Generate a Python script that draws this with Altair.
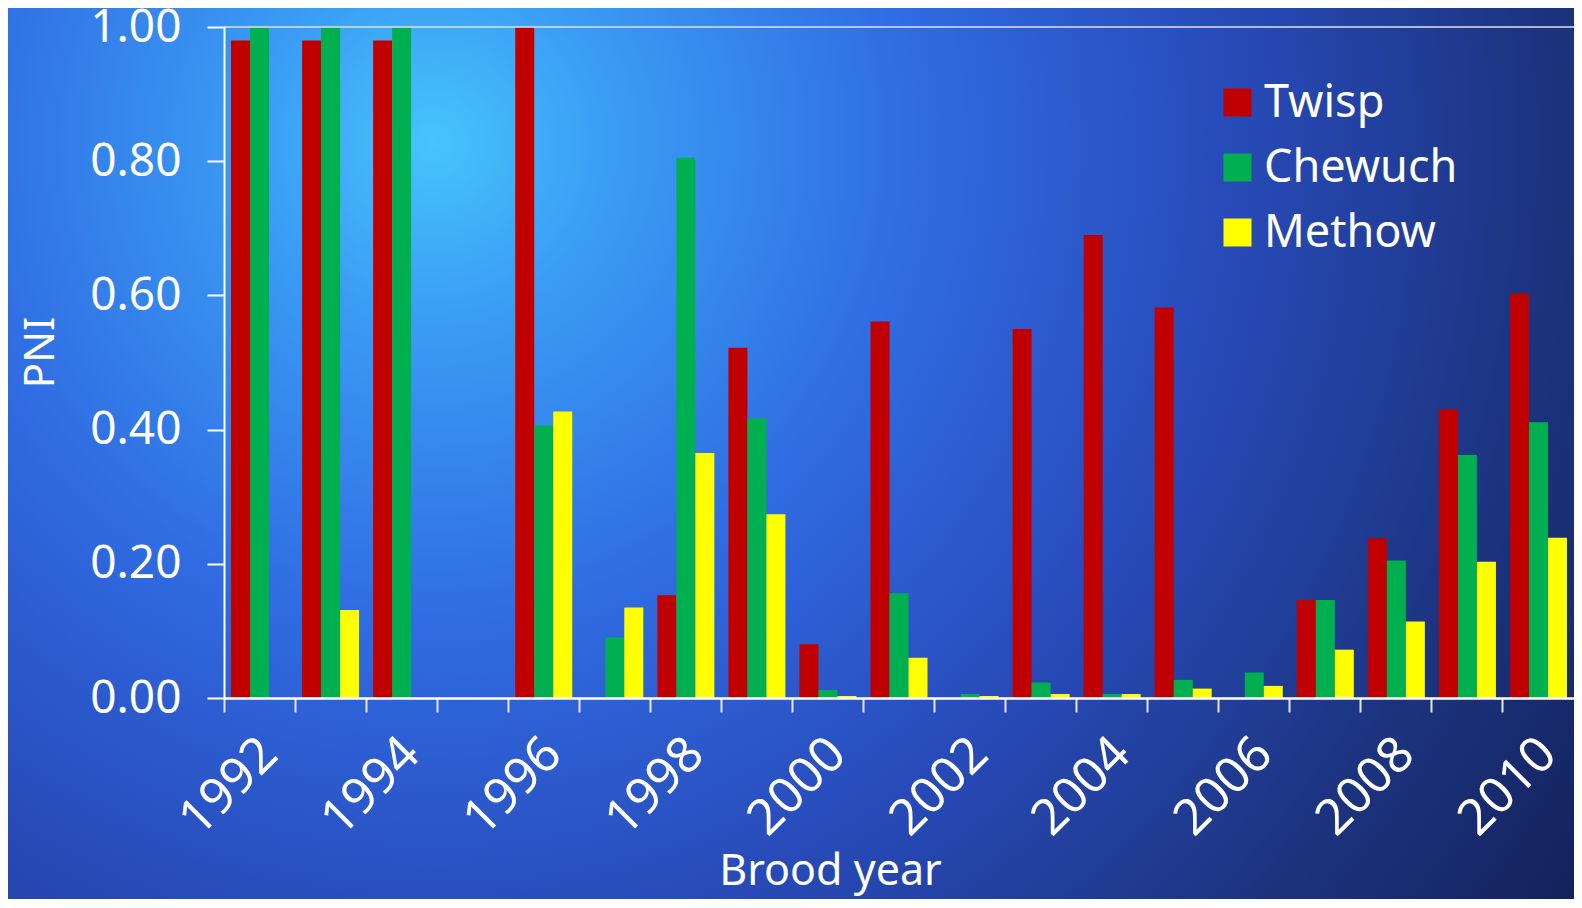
import altair as alt
import pandas as pd

years = [1992, 1993, 1994, 1995, 1996, 1997, 1998, 1999, 2000, 2001,
         2002, 2003, 2004, 2005, 2006, 2007, 2008, 2009, 2010]
series = ["Twisp", "Chewuch", "Methow"]
colors = ["#C00000", "#00B050", "#FFFF00"]

twisp = [0.98, 0.98, 0.98, None, 1.00, None, 0.153, 0.522, 0.080, 0.561,
         None, 0.550, 0.690, 0.582, None, 0.146, 0.238, 0.430, 0.603]
chewuch = [1.00, 1.00, 1.00, None, 0.406, 0.090, 0.805, 0.417, 0.012, 0.156,
           0.006, 0.023, 0.006, 0.027, 0.038, 0.146, 0.205, 0.362, 0.411]
methow = [None, 0.131, None, None, 0.427, 0.135, 0.365, 0.274, 0.003, 0.060,
          0.003, 0.006, 0.006, 0.014, 0.018, 0.072, 0.114, 0.203, 0.239]
y_ticks = [0.0, 0.2, 0.4, 0.6, 0.8, 1.0]
top_line = [1.0]

rows = []
for name, vals in zip(series, [twisp, chewuch, methow]):
    for yr, v in zip(years, vals):
        if v is not None:
            rows.append({"year": yr, "series": name, "pni": v})
df = pd.DataFrame(rows)

FONT = "Noto Sans"
W, H = 1350, 671

y_axis = alt.Axis(
    title="PNI",
    values=y_ticks,
    format=".2f",
    grid=False,
    tickSize=17,
    tickWidth=2,
    tickColor="white",
    domainColor="white",
    domainWidth=2,
    labelFont=FONT,
    labelFontSize=46,
    labelColor="white",
    labelPadding=26,
    titleFont=FONT,
    titleFontSize=42,
    titleFontWeight="normal",
    titleColor="white",
    titleX=-171,
    titleY=325,
    titleAngle=270,
    titleBaseline="alphabetic",
    titleAlign="center",
    zindex=1,
)
y_scale = alt.Scale(domain=[0, 1], nice=False)

bg = alt.Chart(alt.Data(values=[{"k": 0}])).mark_rect(
    fill={
        "gradient": "radial",
        "x1": 0.27, "y1": 0.3, "r1": 0.0,
        "x2": 0.27, "y2": 0.3, "r2": 0.95,
        "stops": [
            {"offset": 0.0, "color": "#46c4fb"},
            {"offset": 0.12, "color": "#3a9cf4"},
            {"offset": 0.32, "color": "#306ce2"},
            {"offset": 0.52, "color": "#284cbc"},
            {"offset": 0.74, "color": "#1c3480"},
            {"offset": 1.0, "color": "#10194a"},
        ],
    },
    strokeWidth=0,
).encode(
    x=alt.value(-216), x2=alt.value(W + 10),
    y=alt.value(-19), y2=alt.value(H + 210),
)

bars = alt.Chart(df).mark_bar(strokeWidth=0).encode(
    x=alt.X(
        "year:O",
        scale=alt.Scale(domain=years, paddingInner=0, paddingOuter=0),
        axis=alt.Axis(
            title="Brood year",
            bandPosition=0,
            labelExpr="datum.value % 2 == 0 ? datum.label : ''",
            labelOverlap=False,
            labelAngle=-45,
            labelAlign="right",
            labelBaseline="middle",
            labelOffset=10,
            labelPadding=34,
            labelFont=FONT,
            labelFontSize=50,
            labelColor="white",
            tickSize=14,
            tickWidth=2,
            tickColor="#e6e6e6",
            domainColor="white",
            domainWidth=2.5,
            titleFont=FONT,
            titleFontSize=43,
            titleFontWeight="normal",
            titleColor="white",
            titleX=606,
            titleY=186,
            titleBaseline="alphabetic",
            titleAlign="center",
            zindex=1,
        ),
    ),
    xOffset=alt.XOffset(
        "series:N",
        scale=alt.Scale(domain=series, paddingOuter=0.37, paddingInner=0),
    ),
    y=alt.Y("pni:Q", scale=y_scale, axis=y_axis),
    color=alt.Color(
        "series:N",
        scale=alt.Scale(domain=series, range=colors),
        legend=alt.Legend(
            title=None,
            orient="none",
            legendX=991,
            legendY=53,
            symbolType="square",
            symbolSize=784,
            symbolStrokeWidth=0,
            symbolOpacity=1,
            labelFont=FONT,
            labelFontSize=45,
            labelColor="white",
            labelOffset=4,
            labelLimit=400,
            rowPadding=19,
            zindex=1,
        ),
    ),
)

rule = alt.Chart(pd.DataFrame({"v": top_line})).mark_rule(
    color="#e0e0e0", strokeWidth=1.5
).encode(y=alt.Y("v:Q", scale=y_scale, title="PNI"))

chart = alt.layer(bg, bars, rule).properties(
    width=W,
    height=H,
    padding={"left": 216, "top": 19, "right": 0, "bottom": 201},
    autosize=alt.AutoSizeParams(type="none"),
    background="#1a2c70",
).configure_view(stroke=None)

chart.save("out.html", embed_options={"renderer": "svg", "actions": False})
